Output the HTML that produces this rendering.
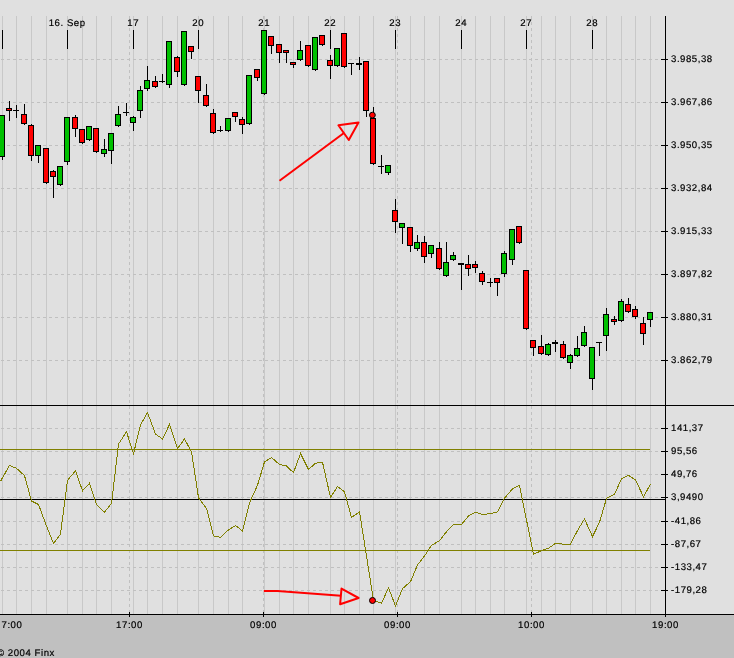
<!DOCTYPE html><html><head><meta charset="utf-8"><style>html,body{margin:0;padding:0;background:#e0e0e0;}svg{display:block;}text{font-family:"Liberation Sans",sans-serif;font-size:9.6px;fill:#000;stroke:#000;stroke-width:0.2px;letter-spacing:0.55px;text-rendering:geometricPrecision;}#tx{position:absolute;left:0;top:0;will-change:transform;}</style></head><body>
<svg width="734" height="658" viewBox="0 0 734 658">
<rect x="0" y="0" width="734" height="658" fill="#e0e0e0"/>
<rect x="0" y="615" width="734" height="43" fill="#c0c0c0"/>
<g shape-rendering="crispEdges">
<rect x="2" y="16" width="1" height="389" fill="#c8c8c8"/>
<rect x="2" y="406" width="1" height="208" fill="#c8c8c8"/>
<rect x="16" y="16" width="1" height="389" fill="#c8c8c8"/>
<rect x="16" y="406" width="1" height="208" fill="#c8c8c8"/>
<rect x="31" y="16" width="1" height="389" fill="#c8c8c8"/>
<rect x="31" y="406" width="1" height="208" fill="#c8c8c8"/>
<rect x="46" y="16" width="1" height="389" fill="#c8c8c8"/>
<rect x="46" y="406" width="1" height="208" fill="#c8c8c8"/>
<rect x="67" y="16" width="1" height="389" fill="#c8c8c8"/>
<rect x="67" y="406" width="1" height="208" fill="#c8c8c8"/>
<rect x="82" y="16" width="1" height="389" fill="#c8c8c8"/>
<rect x="82" y="406" width="1" height="208" fill="#c8c8c8"/>
<rect x="96" y="16" width="1" height="389" fill="#c8c8c8"/>
<rect x="96" y="406" width="1" height="208" fill="#c8c8c8"/>
<rect x="111" y="16" width="1" height="389" fill="#c8c8c8"/>
<rect x="111" y="406" width="1" height="208" fill="#c8c8c8"/>
<rect x="133" y="16" width="1" height="389" fill="#c8c8c8"/>
<rect x="133" y="406" width="1" height="208" fill="#c8c8c8"/>
<rect x="147" y="16" width="1" height="389" fill="#c8c8c8"/>
<rect x="147" y="406" width="1" height="208" fill="#c8c8c8"/>
<rect x="162" y="16" width="1" height="389" fill="#c8c8c8"/>
<rect x="162" y="406" width="1" height="208" fill="#c8c8c8"/>
<rect x="177" y="16" width="1" height="389" fill="#c8c8c8"/>
<rect x="177" y="406" width="1" height="208" fill="#c8c8c8"/>
<rect x="198" y="16" width="1" height="389" fill="#c8c8c8"/>
<rect x="198" y="406" width="1" height="208" fill="#c8c8c8"/>
<rect x="213" y="16" width="1" height="389" fill="#c8c8c8"/>
<rect x="213" y="406" width="1" height="208" fill="#c8c8c8"/>
<rect x="228" y="16" width="1" height="389" fill="#c8c8c8"/>
<rect x="228" y="406" width="1" height="208" fill="#c8c8c8"/>
<rect x="242" y="16" width="1" height="389" fill="#c8c8c8"/>
<rect x="242" y="406" width="1" height="208" fill="#c8c8c8"/>
<rect x="264" y="16" width="1" height="389" fill="#c8c8c8"/>
<rect x="264" y="406" width="1" height="208" fill="#c8c8c8"/>
<rect x="279" y="16" width="1" height="389" fill="#c8c8c8"/>
<rect x="279" y="406" width="1" height="208" fill="#c8c8c8"/>
<rect x="293" y="16" width="1" height="389" fill="#c8c8c8"/>
<rect x="293" y="406" width="1" height="208" fill="#c8c8c8"/>
<rect x="308" y="16" width="1" height="389" fill="#c8c8c8"/>
<rect x="308" y="406" width="1" height="208" fill="#c8c8c8"/>
<rect x="330" y="16" width="1" height="389" fill="#c8c8c8"/>
<rect x="330" y="406" width="1" height="208" fill="#c8c8c8"/>
<rect x="344" y="16" width="1" height="389" fill="#c8c8c8"/>
<rect x="344" y="406" width="1" height="208" fill="#c8c8c8"/>
<rect x="359" y="16" width="1" height="389" fill="#c8c8c8"/>
<rect x="359" y="406" width="1" height="208" fill="#c8c8c8"/>
<rect x="373" y="16" width="1" height="389" fill="#c8c8c8"/>
<rect x="373" y="406" width="1" height="208" fill="#c8c8c8"/>
<rect x="395" y="16" width="1" height="389" fill="#c8c8c8"/>
<rect x="395" y="406" width="1" height="208" fill="#c8c8c8"/>
<rect x="410" y="16" width="1" height="389" fill="#c8c8c8"/>
<rect x="410" y="406" width="1" height="208" fill="#c8c8c8"/>
<rect x="424" y="16" width="1" height="389" fill="#c8c8c8"/>
<rect x="424" y="406" width="1" height="208" fill="#c8c8c8"/>
<rect x="439" y="16" width="1" height="389" fill="#c8c8c8"/>
<rect x="439" y="406" width="1" height="208" fill="#c8c8c8"/>
<rect x="461" y="16" width="1" height="389" fill="#c8c8c8"/>
<rect x="461" y="406" width="1" height="208" fill="#c8c8c8"/>
<rect x="475" y="16" width="1" height="389" fill="#c8c8c8"/>
<rect x="475" y="406" width="1" height="208" fill="#c8c8c8"/>
<rect x="490" y="16" width="1" height="389" fill="#c8c8c8"/>
<rect x="490" y="406" width="1" height="208" fill="#c8c8c8"/>
<rect x="504" y="16" width="1" height="389" fill="#c8c8c8"/>
<rect x="504" y="406" width="1" height="208" fill="#c8c8c8"/>
<rect x="526" y="16" width="1" height="389" fill="#c8c8c8"/>
<rect x="526" y="406" width="1" height="208" fill="#c8c8c8"/>
<rect x="541" y="16" width="1" height="389" fill="#c8c8c8"/>
<rect x="541" y="406" width="1" height="208" fill="#c8c8c8"/>
<rect x="555" y="16" width="1" height="389" fill="#c8c8c8"/>
<rect x="555" y="406" width="1" height="208" fill="#c8c8c8"/>
<rect x="570" y="16" width="1" height="389" fill="#c8c8c8"/>
<rect x="570" y="406" width="1" height="208" fill="#c8c8c8"/>
<rect x="592" y="16" width="1" height="389" fill="#c8c8c8"/>
<rect x="592" y="406" width="1" height="208" fill="#c8c8c8"/>
<rect x="606" y="16" width="1" height="389" fill="#c8c8c8"/>
<rect x="606" y="406" width="1" height="208" fill="#c8c8c8"/>
<rect x="621" y="16" width="1" height="389" fill="#c8c8c8"/>
<rect x="621" y="406" width="1" height="208" fill="#c8c8c8"/>
<rect x="635" y="16" width="1" height="389" fill="#c8c8c8"/>
<rect x="635" y="406" width="1" height="208" fill="#c8c8c8"/>
<rect x="650" y="16" width="1" height="389" fill="#c8c8c8"/>
<rect x="650" y="406" width="1" height="208" fill="#c8c8c8"/>
<line x1="129.5" y1="16" x2="129.5" y2="405" stroke="#c0c0c0" stroke-width="1" stroke-dasharray="3 3" stroke-dashoffset="0"/>
<line x1="129.5" y1="406" x2="129.5" y2="614" stroke="#c0c0c0" stroke-width="1" stroke-dasharray="3 3" stroke-dashoffset="0"/>
<line x1="263.5" y1="16" x2="263.5" y2="405" stroke="#c0c0c0" stroke-width="1" stroke-dasharray="3 3" stroke-dashoffset="0"/>
<line x1="263.5" y1="406" x2="263.5" y2="614" stroke="#c0c0c0" stroke-width="1" stroke-dasharray="3 3" stroke-dashoffset="0"/>
<line x1="397.5" y1="16" x2="397.5" y2="405" stroke="#c0c0c0" stroke-width="1" stroke-dasharray="3 3" stroke-dashoffset="0"/>
<line x1="397.5" y1="406" x2="397.5" y2="614" stroke="#c0c0c0" stroke-width="1" stroke-dasharray="3 3" stroke-dashoffset="0"/>
<line x1="531.5" y1="16" x2="531.5" y2="405" stroke="#c0c0c0" stroke-width="1" stroke-dasharray="3 3" stroke-dashoffset="0"/>
<line x1="531.5" y1="406" x2="531.5" y2="614" stroke="#c0c0c0" stroke-width="1" stroke-dasharray="3 3" stroke-dashoffset="0"/>
<line x1="0" y1="59.5" x2="661" y2="59.5" stroke="#c0c0c0" stroke-width="1" stroke-dasharray="3 3" stroke-dashoffset="-1"/>
<line x1="0" y1="102.5" x2="661" y2="102.5" stroke="#c0c0c0" stroke-width="1" stroke-dasharray="3 3" stroke-dashoffset="-1"/>
<line x1="0" y1="145.5" x2="661" y2="145.5" stroke="#c0c0c0" stroke-width="1" stroke-dasharray="3 3" stroke-dashoffset="-1"/>
<line x1="0" y1="188.5" x2="661" y2="188.5" stroke="#c0c0c0" stroke-width="1" stroke-dasharray="3 3" stroke-dashoffset="-1"/>
<line x1="0" y1="231.5" x2="661" y2="231.5" stroke="#c0c0c0" stroke-width="1" stroke-dasharray="3 3" stroke-dashoffset="-1"/>
<line x1="0" y1="274.5" x2="661" y2="274.5" stroke="#c0c0c0" stroke-width="1" stroke-dasharray="3 3" stroke-dashoffset="-1"/>
<line x1="0" y1="317.5" x2="661" y2="317.5" stroke="#c0c0c0" stroke-width="1" stroke-dasharray="3 3" stroke-dashoffset="-1"/>
<line x1="0" y1="360.5" x2="661" y2="360.5" stroke="#c0c0c0" stroke-width="1" stroke-dasharray="3 3" stroke-dashoffset="-1"/>
<line x1="0" y1="428.5" x2="661" y2="428.5" stroke="#c0c0c0" stroke-width="1" stroke-dasharray="3 3" stroke-dashoffset="-1"/>
<line x1="0" y1="451.5" x2="661" y2="451.5" stroke="#c0c0c0" stroke-width="1" stroke-dasharray="3 3" stroke-dashoffset="-1"/>
<line x1="0" y1="474.5" x2="661" y2="474.5" stroke="#c0c0c0" stroke-width="1" stroke-dasharray="3 3" stroke-dashoffset="-1"/>
<line x1="0" y1="497.5" x2="661" y2="497.5" stroke="#c0c0c0" stroke-width="1" stroke-dasharray="3 3" stroke-dashoffset="-1"/>
<line x1="0" y1="521.5" x2="661" y2="521.5" stroke="#c0c0c0" stroke-width="1" stroke-dasharray="3 3" stroke-dashoffset="-1"/>
<line x1="0" y1="544.5" x2="661" y2="544.5" stroke="#c0c0c0" stroke-width="1" stroke-dasharray="3 3" stroke-dashoffset="-1"/>
<line x1="0" y1="567.5" x2="661" y2="567.5" stroke="#c0c0c0" stroke-width="1" stroke-dasharray="3 3" stroke-dashoffset="-1"/>
<line x1="0" y1="590.5" x2="661" y2="590.5" stroke="#c0c0c0" stroke-width="1" stroke-dasharray="3 3" stroke-dashoffset="-1"/>
<rect x="0" y="449" width="650" height="1" fill="#808000"/>
<rect x="0" y="550" width="650" height="1" fill="#808000"/>
<rect x="0" y="499" width="665" height="1" fill="#000"/>
<rect x="0" y="405" width="734" height="1" fill="#000"/>
<rect x="0" y="614" width="734" height="1" fill="#000"/>
<rect x="665" y="16" width="1" height="599" fill="#000"/>
<rect x="661" y="59" width="7" height="1" fill="#000"/>
<rect x="661" y="102" width="7" height="1" fill="#000"/>
<rect x="661" y="145" width="7" height="1" fill="#000"/>
<rect x="661" y="188" width="7" height="1" fill="#000"/>
<rect x="661" y="231" width="7" height="1" fill="#000"/>
<rect x="661" y="274" width="7" height="1" fill="#000"/>
<rect x="661" y="317" width="7" height="1" fill="#000"/>
<rect x="661" y="360" width="7" height="1" fill="#000"/>
<rect x="661" y="428" width="7" height="1" fill="#000"/>
<rect x="661" y="451" width="7" height="1" fill="#000"/>
<rect x="661" y="474" width="7" height="1" fill="#000"/>
<rect x="661" y="497" width="7" height="1" fill="#000"/>
<rect x="661" y="521" width="7" height="1" fill="#000"/>
<rect x="661" y="544" width="7" height="1" fill="#000"/>
<rect x="661" y="567" width="7" height="1" fill="#000"/>
<rect x="661" y="590" width="7" height="1" fill="#000"/>
<rect x="2" y="30" width="1" height="19" fill="#000"/>
<rect x="67" y="30" width="1" height="19" fill="#000"/>
<rect x="133" y="30" width="1" height="19" fill="#000"/>
<rect x="198" y="30" width="1" height="19" fill="#000"/>
<rect x="264" y="30" width="1" height="19" fill="#000"/>
<rect x="330" y="30" width="1" height="19" fill="#000"/>
<rect x="395" y="30" width="1" height="19" fill="#000"/>
<rect x="461" y="30" width="1" height="19" fill="#000"/>
<rect x="526" y="30" width="1" height="19" fill="#000"/>
<rect x="592" y="30" width="1" height="19" fill="#000"/>
<rect x="129" y="612" width="1" height="5" fill="#000"/>
<rect x="263" y="612" width="1" height="5" fill="#000"/>
<rect x="397" y="612" width="1" height="5" fill="#000"/>
<rect x="531" y="612" width="1" height="5" fill="#000"/>
<rect x="665" y="612" width="1" height="5" fill="#000"/>
<rect x="2" y="115" width="1" height="45" fill="#000"/>
<rect x="-1" y="115" width="6" height="42" fill="#000"/>
<rect x="0" y="116" width="4" height="40" fill="#00c000"/>
<rect x="9" y="101" width="1" height="20" fill="#000"/>
<rect x="6" y="108" width="6" height="3" fill="#000"/>
<rect x="7" y="109" width="4" height="1" fill="#ff0000"/>
<rect x="16" y="105" width="1" height="13" fill="#000"/>
<rect x="13" y="110" width="6" height="1" fill="#000"/>
<rect x="24" y="104" width="1" height="21" fill="#000"/>
<rect x="21" y="114" width="6" height="10" fill="#000"/>
<rect x="22" y="115" width="4" height="8" fill="#ff0000"/>
<rect x="31" y="124" width="1" height="37" fill="#000"/>
<rect x="28" y="125" width="6" height="31" fill="#000"/>
<rect x="29" y="126" width="4" height="29" fill="#ff0000"/>
<rect x="38" y="145" width="1" height="18" fill="#000"/>
<rect x="35" y="145" width="6" height="11" fill="#000"/>
<rect x="36" y="146" width="4" height="9" fill="#00c000"/>
<rect x="46" y="148" width="1" height="36" fill="#000"/>
<rect x="43" y="148" width="6" height="35" fill="#000"/>
<rect x="44" y="149" width="4" height="33" fill="#ff0000"/>
<rect x="53" y="170" width="1" height="28" fill="#000"/>
<rect x="50" y="171" width="6" height="6" fill="#000"/>
<rect x="51" y="172" width="4" height="4" fill="#ff0000"/>
<rect x="60" y="166" width="1" height="20" fill="#000"/>
<rect x="57" y="166" width="6" height="19" fill="#000"/>
<rect x="58" y="167" width="4" height="17" fill="#00c000"/>
<rect x="67" y="117" width="1" height="48" fill="#000"/>
<rect x="64" y="117" width="6" height="45" fill="#000"/>
<rect x="65" y="118" width="4" height="43" fill="#00c000"/>
<rect x="75" y="115" width="1" height="22" fill="#000"/>
<rect x="72" y="117" width="6" height="12" fill="#000"/>
<rect x="73" y="118" width="4" height="10" fill="#ff0000"/>
<rect x="82" y="129" width="1" height="15" fill="#000"/>
<rect x="79" y="129" width="6" height="14" fill="#000"/>
<rect x="80" y="130" width="4" height="12" fill="#ff0000"/>
<rect x="89" y="126" width="1" height="15" fill="#000"/>
<rect x="86" y="126" width="6" height="14" fill="#000"/>
<rect x="87" y="127" width="4" height="12" fill="#00c000"/>
<rect x="96" y="128" width="1" height="25" fill="#000"/>
<rect x="93" y="128" width="6" height="24" fill="#000"/>
<rect x="94" y="129" width="4" height="22" fill="#ff0000"/>
<rect x="104" y="139" width="1" height="18" fill="#000"/>
<rect x="101" y="149" width="6" height="5" fill="#000"/>
<rect x="102" y="150" width="4" height="3" fill="#00c000"/>
<rect x="111" y="133" width="1" height="31" fill="#000"/>
<rect x="108" y="133" width="6" height="18" fill="#000"/>
<rect x="109" y="134" width="4" height="16" fill="#00c000"/>
<rect x="118" y="106" width="1" height="21" fill="#000"/>
<rect x="115" y="114" width="6" height="12" fill="#000"/>
<rect x="116" y="115" width="4" height="10" fill="#00c000"/>
<rect x="126" y="103" width="1" height="13" fill="#000"/>
<rect x="123" y="112" width="6" height="1" fill="#000"/>
<rect x="133" y="116" width="1" height="15" fill="#000"/>
<rect x="130" y="117" width="6" height="6" fill="#000"/>
<rect x="131" y="118" width="4" height="4" fill="#00c000"/>
<rect x="140" y="86" width="1" height="32" fill="#000"/>
<rect x="137" y="90" width="6" height="21" fill="#000"/>
<rect x="138" y="91" width="4" height="19" fill="#00c000"/>
<rect x="147" y="66" width="1" height="25" fill="#000"/>
<rect x="144" y="80" width="6" height="9" fill="#000"/>
<rect x="145" y="81" width="4" height="7" fill="#00c000"/>
<rect x="155" y="76" width="1" height="12" fill="#000"/>
<rect x="152" y="81" width="6" height="6" fill="#000"/>
<rect x="153" y="82" width="4" height="4" fill="#ff0000"/>
<rect x="162" y="74" width="1" height="9" fill="#000"/>
<rect x="159" y="81" width="6" height="1" fill="#000"/>
<rect x="169" y="41" width="1" height="47" fill="#000"/>
<rect x="166" y="41" width="6" height="44" fill="#000"/>
<rect x="167" y="42" width="4" height="42" fill="#00c000"/>
<rect x="177" y="56" width="1" height="21" fill="#000"/>
<rect x="174" y="57" width="6" height="15" fill="#000"/>
<rect x="175" y="58" width="4" height="13" fill="#ff0000"/>
<rect x="184" y="31" width="1" height="55" fill="#000"/>
<rect x="181" y="31" width="6" height="54" fill="#000"/>
<rect x="182" y="32" width="4" height="52" fill="#00c000"/>
<rect x="191" y="46" width="1" height="13" fill="#000"/>
<rect x="188" y="46" width="6" height="6" fill="#000"/>
<rect x="189" y="47" width="4" height="4" fill="#ff0000"/>
<rect x="198" y="76" width="1" height="27" fill="#000"/>
<rect x="195" y="76" width="6" height="15" fill="#000"/>
<rect x="196" y="77" width="4" height="13" fill="#ff0000"/>
<rect x="206" y="84" width="1" height="23" fill="#000"/>
<rect x="203" y="95" width="6" height="11" fill="#000"/>
<rect x="204" y="96" width="4" height="9" fill="#ff0000"/>
<rect x="213" y="109" width="1" height="25" fill="#000"/>
<rect x="210" y="113" width="6" height="20" fill="#000"/>
<rect x="211" y="114" width="4" height="18" fill="#ff0000"/>
<rect x="220" y="126" width="1" height="6" fill="#000"/>
<rect x="217" y="130" width="6" height="1" fill="#000"/>
<rect x="228" y="118" width="1" height="14" fill="#000"/>
<rect x="225" y="118" width="6" height="13" fill="#000"/>
<rect x="226" y="119" width="4" height="11" fill="#00c000"/>
<rect x="235" y="112" width="1" height="10" fill="#000"/>
<rect x="232" y="112" width="6" height="5" fill="#000"/>
<rect x="233" y="113" width="4" height="3" fill="#ff0000"/>
<rect x="242" y="117" width="1" height="17" fill="#000"/>
<rect x="239" y="119" width="6" height="6" fill="#000"/>
<rect x="240" y="120" width="4" height="4" fill="#ff0000"/>
<rect x="249" y="75" width="1" height="50" fill="#000"/>
<rect x="246" y="75" width="6" height="49" fill="#000"/>
<rect x="247" y="76" width="4" height="47" fill="#00c000"/>
<rect x="257" y="69" width="1" height="12" fill="#000"/>
<rect x="254" y="69" width="6" height="9" fill="#000"/>
<rect x="255" y="70" width="4" height="7" fill="#ff0000"/>
<rect x="264" y="30" width="1" height="65" fill="#000"/>
<rect x="261" y="30" width="6" height="64" fill="#000"/>
<rect x="262" y="31" width="4" height="62" fill="#00c000"/>
<rect x="271" y="36" width="1" height="18" fill="#000"/>
<rect x="268" y="36" width="6" height="10" fill="#000"/>
<rect x="269" y="37" width="4" height="8" fill="#ff0000"/>
<rect x="279" y="44" width="1" height="19" fill="#000"/>
<rect x="276" y="44" width="6" height="9" fill="#000"/>
<rect x="277" y="45" width="4" height="7" fill="#ff0000"/>
<rect x="286" y="50" width="1" height="13" fill="#000"/>
<rect x="283" y="50" width="6" height="3" fill="#000"/>
<rect x="284" y="51" width="4" height="1" fill="#ff0000"/>
<rect x="293" y="62" width="1" height="6" fill="#000"/>
<rect x="290" y="62" width="6" height="3" fill="#000"/>
<rect x="291" y="63" width="4" height="1" fill="#ff0000"/>
<rect x="300" y="41" width="1" height="20" fill="#000"/>
<rect x="297" y="50" width="6" height="10" fill="#000"/>
<rect x="298" y="51" width="4" height="8" fill="#00c000"/>
<rect x="308" y="45" width="1" height="22" fill="#000"/>
<rect x="305" y="45" width="6" height="21" fill="#000"/>
<rect x="306" y="46" width="4" height="19" fill="#ff0000"/>
<rect x="315" y="37" width="1" height="34" fill="#000"/>
<rect x="312" y="37" width="6" height="33" fill="#000"/>
<rect x="313" y="38" width="4" height="31" fill="#00c000"/>
<rect x="322" y="35" width="1" height="11" fill="#000"/>
<rect x="319" y="35" width="6" height="10" fill="#000"/>
<rect x="320" y="36" width="4" height="8" fill="#ff0000"/>
<rect x="330" y="55" width="1" height="24" fill="#000"/>
<rect x="327" y="60" width="6" height="6" fill="#000"/>
<rect x="328" y="61" width="4" height="4" fill="#ff0000"/>
<rect x="337" y="48" width="1" height="19" fill="#000"/>
<rect x="334" y="48" width="6" height="18" fill="#000"/>
<rect x="335" y="49" width="4" height="16" fill="#00c000"/>
<rect x="344" y="33" width="1" height="35" fill="#000"/>
<rect x="341" y="33" width="6" height="34" fill="#000"/>
<rect x="342" y="34" width="4" height="32" fill="#ff0000"/>
<rect x="351" y="63" width="1" height="12" fill="#000"/>
<rect x="348" y="63" width="6" height="1" fill="#000"/>
<rect x="359" y="57" width="1" height="13" fill="#000"/>
<rect x="356" y="63" width="6" height="2" fill="#000"/>
<rect x="366" y="61" width="1" height="56" fill="#000"/>
<rect x="363" y="61" width="6" height="50" fill="#000"/>
<rect x="364" y="62" width="4" height="48" fill="#ff0000"/>
<rect x="373" y="107" width="1" height="58" fill="#000"/>
<rect x="370" y="118" width="6" height="46" fill="#000"/>
<rect x="371" y="119" width="4" height="44" fill="#ff0000"/>
<rect x="381" y="155" width="1" height="19" fill="#000"/>
<rect x="378" y="166" width="6" height="1" fill="#000"/>
<rect x="388" y="165" width="1" height="10" fill="#000"/>
<rect x="385" y="165" width="6" height="8" fill="#000"/>
<rect x="386" y="166" width="4" height="6" fill="#00c000"/>
<rect x="395" y="199" width="1" height="34" fill="#000"/>
<rect x="392" y="210" width="6" height="12" fill="#000"/>
<rect x="393" y="211" width="4" height="10" fill="#ff0000"/>
<rect x="402" y="223" width="1" height="21" fill="#000"/>
<rect x="399" y="223" width="6" height="5" fill="#000"/>
<rect x="400" y="224" width="4" height="3" fill="#00c000"/>
<rect x="410" y="227" width="1" height="25" fill="#000"/>
<rect x="407" y="227" width="6" height="19" fill="#000"/>
<rect x="408" y="228" width="4" height="17" fill="#ff0000"/>
<rect x="417" y="235" width="1" height="16" fill="#000"/>
<rect x="414" y="242" width="6" height="7" fill="#000"/>
<rect x="415" y="243" width="4" height="5" fill="#00c000"/>
<rect x="424" y="236" width="1" height="27" fill="#000"/>
<rect x="421" y="242" width="6" height="15" fill="#000"/>
<rect x="422" y="243" width="4" height="13" fill="#ff0000"/>
<rect x="431" y="245" width="1" height="13" fill="#000"/>
<rect x="428" y="245" width="6" height="9" fill="#000"/>
<rect x="429" y="246" width="4" height="7" fill="#00c000"/>
<rect x="439" y="242" width="1" height="28" fill="#000"/>
<rect x="436" y="248" width="6" height="21" fill="#000"/>
<rect x="437" y="249" width="4" height="19" fill="#ff0000"/>
<rect x="446" y="242" width="1" height="35" fill="#000"/>
<rect x="443" y="262" width="6" height="14" fill="#000"/>
<rect x="444" y="263" width="4" height="12" fill="#00c000"/>
<rect x="453" y="252" width="1" height="9" fill="#000"/>
<rect x="450" y="255" width="6" height="5" fill="#000"/>
<rect x="451" y="256" width="4" height="3" fill="#00c000"/>
<rect x="461" y="263" width="1" height="27" fill="#000"/>
<rect x="458" y="263" width="6" height="2" fill="#000"/>
<rect x="468" y="255" width="1" height="21" fill="#000"/>
<rect x="465" y="264" width="6" height="5" fill="#000"/>
<rect x="466" y="265" width="4" height="3" fill="#ff0000"/>
<rect x="475" y="261" width="1" height="12" fill="#000"/>
<rect x="472" y="264" width="6" height="4" fill="#000"/>
<rect x="473" y="265" width="4" height="2" fill="#ff0000"/>
<rect x="482" y="271" width="1" height="14" fill="#000"/>
<rect x="479" y="273" width="6" height="9" fill="#000"/>
<rect x="480" y="274" width="4" height="7" fill="#ff0000"/>
<rect x="490" y="278" width="1" height="9" fill="#000"/>
<rect x="487" y="282" width="6" height="1" fill="#000"/>
<rect x="497" y="278" width="1" height="18" fill="#000"/>
<rect x="494" y="278" width="6" height="5" fill="#000"/>
<rect x="495" y="279" width="4" height="3" fill="#ff0000"/>
<rect x="504" y="251" width="1" height="26" fill="#000"/>
<rect x="501" y="253" width="6" height="21" fill="#000"/>
<rect x="502" y="254" width="4" height="19" fill="#00c000"/>
<rect x="512" y="229" width="1" height="36" fill="#000"/>
<rect x="509" y="229" width="6" height="31" fill="#000"/>
<rect x="510" y="230" width="4" height="29" fill="#00c000"/>
<rect x="519" y="226" width="1" height="18" fill="#000"/>
<rect x="516" y="226" width="6" height="17" fill="#000"/>
<rect x="517" y="227" width="4" height="15" fill="#ff0000"/>
<rect x="526" y="270" width="1" height="60" fill="#000"/>
<rect x="523" y="270" width="6" height="59" fill="#000"/>
<rect x="524" y="271" width="4" height="57" fill="#ff0000"/>
<rect x="533" y="340" width="1" height="16" fill="#000"/>
<rect x="530" y="340" width="6" height="8" fill="#000"/>
<rect x="531" y="341" width="4" height="6" fill="#ff0000"/>
<rect x="541" y="335" width="1" height="20" fill="#000"/>
<rect x="538" y="346" width="6" height="8" fill="#000"/>
<rect x="539" y="347" width="4" height="6" fill="#ff0000"/>
<rect x="548" y="343" width="1" height="13" fill="#000"/>
<rect x="545" y="344" width="6" height="11" fill="#000"/>
<rect x="546" y="345" width="4" height="9" fill="#00c000"/>
<rect x="555" y="340" width="1" height="12" fill="#000"/>
<rect x="552" y="342" width="6" height="2" fill="#000"/>
<rect x="563" y="341" width="1" height="18" fill="#000"/>
<rect x="560" y="344" width="6" height="14" fill="#000"/>
<rect x="561" y="345" width="4" height="12" fill="#ff0000"/>
<rect x="570" y="354" width="1" height="15" fill="#000"/>
<rect x="567" y="355" width="6" height="8" fill="#000"/>
<rect x="568" y="356" width="4" height="6" fill="#00c000"/>
<rect x="577" y="336" width="1" height="21" fill="#000"/>
<rect x="574" y="348" width="6" height="8" fill="#000"/>
<rect x="575" y="349" width="4" height="6" fill="#00c000"/>
<rect x="584" y="326" width="1" height="21" fill="#000"/>
<rect x="581" y="332" width="6" height="14" fill="#000"/>
<rect x="582" y="333" width="4" height="12" fill="#00c000"/>
<rect x="592" y="347" width="1" height="43" fill="#000"/>
<rect x="589" y="347" width="6" height="32" fill="#000"/>
<rect x="590" y="348" width="4" height="30" fill="#00c000"/>
<rect x="599" y="342" width="1" height="14" fill="#000"/>
<rect x="596" y="342" width="6" height="1" fill="#000"/>
<rect x="606" y="308" width="1" height="43" fill="#000"/>
<rect x="603" y="314" width="6" height="22" fill="#000"/>
<rect x="604" y="315" width="4" height="20" fill="#00c000"/>
<rect x="614" y="316" width="1" height="9" fill="#000"/>
<rect x="611" y="319" width="6" height="3" fill="#000"/>
<rect x="612" y="320" width="4" height="1" fill="#ff0000"/>
<rect x="621" y="299" width="1" height="23" fill="#000"/>
<rect x="618" y="301" width="6" height="20" fill="#000"/>
<rect x="619" y="302" width="4" height="18" fill="#00c000"/>
<rect x="628" y="298" width="1" height="15" fill="#000"/>
<rect x="625" y="304" width="6" height="8" fill="#000"/>
<rect x="626" y="305" width="4" height="6" fill="#ff0000"/>
<rect x="635" y="306" width="1" height="13" fill="#000"/>
<rect x="632" y="309" width="6" height="8" fill="#000"/>
<rect x="633" y="310" width="4" height="6" fill="#ff0000"/>
<rect x="643" y="317" width="1" height="28" fill="#000"/>
<rect x="640" y="323" width="6" height="11" fill="#000"/>
<rect x="641" y="324" width="4" height="9" fill="#ff0000"/>
<rect x="650" y="312" width="1" height="15" fill="#000"/>
<rect x="647" y="312" width="6" height="8" fill="#000"/>
<rect x="648" y="313" width="4" height="6" fill="#00c000"/>
</g>
<polyline points="0.5,481.3 9.5,465.5 16.5,468.3 24.5,475.6 31.5,501.0 38.5,504.5 46.5,526.0 53.5,543.6 60.5,534.0 67.5,480.3 75.5,470.8 82.5,490.8 89.5,483.2 96.5,504.5 104.5,512.2 111.5,503.4 118.5,444.1 126.5,431.7 133.5,453.8 140.5,425.0 147.5,412.6 155.5,434.0 162.5,439.0 169.5,424.5 177.5,448.5 184.5,439.0 191.5,451.7 198.5,497.7 206.5,508.4 213.5,536.0 220.5,537.3 228.5,529.9 235.5,525.5 242.5,530.9 249.5,503.0 257.5,485.1 264.5,462.0 271.5,457.5 279.5,464.5 286.5,466.0 293.5,472.7 300.5,453.6 308.5,469.5 315.5,463.2 322.5,462.2 330.5,497.5 337.5,486.6 344.5,491.8 351.5,517.5 359.5,511.8 366.5,556.0 373.5,600.4 381.5,603.3 388.5,587.8 395.5,606.0 402.5,588.6 410.5,581.7 417.5,564.9 424.5,556.0 431.5,545.2 439.5,540.8 446.5,531.7 453.5,524.4 461.5,524.4 468.5,515.9 475.5,512.2 482.5,514.6 490.5,513.6 497.5,512.0 504.5,498.2 512.5,488.9 519.5,485.2 526.5,520.0 533.5,554.4 541.5,550.5 548.5,548.3 555.5,543.4 563.5,544.2 570.5,544.2 577.5,530.5 584.5,518.9 592.5,536.6 599.5,522.3 606.5,498.4 614.5,494.3 621.5,478.8 628.5,475.3 635.5,480.0 643.5,496.8 650.5,484.1" fill="none" stroke="#808000" stroke-width="1" shape-rendering="crispEdges"/>
<g fill="none" stroke="#ff0000" stroke-width="2" stroke-linejoin="round">
<line x1="279.5" y1="180.8" x2="343.6" y2="133.2"/>
<polygon points="338.4,125.2 358.5,122.5 348.8,140"/>
<polyline points="263.8,591 277.5,591 341,595.7"/>
<polygon points="341.5,588.6 358.6,598 340.1,604.3"/>
</g>
<circle cx="372.4" cy="115.1" r="2.9" fill="#ff0000" stroke="#000" stroke-width="1"/>
<circle cx="372.5" cy="600.5" r="3" fill="#ff0000" stroke="#000" stroke-width="1"/>
</svg><svg id="tx" width="734" height="658">
<text x="671" y="62">3.985,38</text>
<text x="671" y="105">3.967,86</text>
<text x="671" y="148">3.950,35</text>
<text x="671" y="191">3.932,84</text>
<text x="671" y="234">3.915,33</text>
<text x="671" y="277">3.897,82</text>
<text x="671" y="320">3.880,31</text>
<text x="671" y="363">3.862,79</text>
<text x="671" y="431">141,37</text>
<text x="671" y="454">95,56</text>
<text x="671" y="477">49,76</text>
<text x="671" y="500">3,9490</text>
<text x="671" y="524">-41,86</text>
<text x="671" y="547">-87,67</text>
<text x="671" y="570">-133,47</text>
<text x="671" y="593">-179,28</text>
<text x="67.2" y="26" text-anchor="middle">16. Sep</text>
<text x="133.2" y="26" text-anchor="middle">17</text>
<text x="198.2" y="26" text-anchor="middle">20</text>
<text x="264.2" y="26" text-anchor="middle">21</text>
<text x="330.2" y="26" text-anchor="middle">22</text>
<text x="395.2" y="26" text-anchor="middle">23</text>
<text x="461.2" y="26" text-anchor="middle">24</text>
<text x="526.2" y="26" text-anchor="middle">27</text>
<text x="592.2" y="26" text-anchor="middle">28</text>
<text x="1.5" y="628">7:00</text>
<text x="129.5" y="628" text-anchor="middle">17:00</text>
<text x="263.5" y="628" text-anchor="middle">09:00</text>
<text x="397.5" y="628" text-anchor="middle">09:00</text>
<text x="531.5" y="628" text-anchor="middle">10:00</text>
<text x="665.5" y="628" text-anchor="middle">19:00</text>
<text x="-3" y="656">&#169; 2004 Finx</text>
</svg></body></html>
